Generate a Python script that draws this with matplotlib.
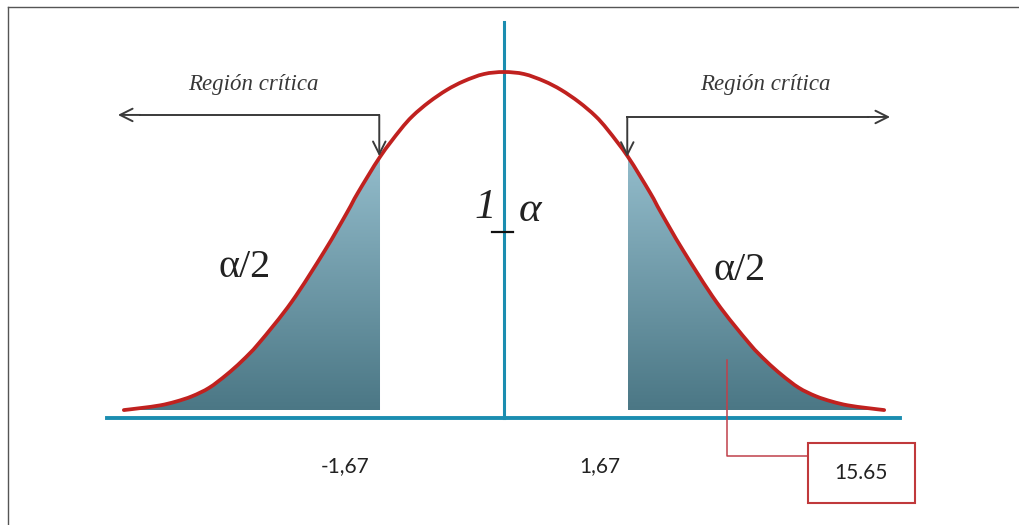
import numpy as np
import matplotlib
matplotlib.use('Agg')
import matplotlib.pyplot as plt
from matplotlib.colors import LinearSegmentedColormap
from matplotlib.patches import PathPatch, Rectangle
from matplotlib.path import Path
from matplotlib.lines import Line2D

# curva (x en unidades z, altura relativa al pico)
curve_x = [-5.12, -4.89, -4.63, -4.42, -4.20, -3.97, -3.74, -3.53, -3.30, -2.86, -2.41,
           -2.11, -1.97, -1.67, -1.40, -1.23, -1.01, -0.77, -0.54, -0.27, 0.0,
           0.27, 0.54, 0.77, 1.01, 1.23, 1.40, 1.67, 1.97, 2.11, 2.41,
           2.86, 3.30, 3.53, 3.74, 3.97, 4.20, 4.42, 4.63, 4.89, 5.12]
curve_y = [0.000, 0.006, 0.014, 0.025, 0.041, 0.066, 0.104, 0.145, 0.198, 0.320, 0.473,
           0.586, 0.642, 0.749, 0.828, 0.870, 0.911, 0.947, 0.973, 0.994, 1.000,
           0.994, 0.973, 0.947, 0.911, 0.870, 0.828, 0.749, 0.642, 0.586, 0.473,
           0.320, 0.198, 0.145, 0.104, 0.066, 0.041, 0.025, 0.014, 0.006, 0.000]

z_crit = 1.67
crit_labels = ['-1,67', '1,67']
tail_label = 'α/2'
region_label = 'Región crítica'
callout_value = '15.65'

teal = '#1b8db0'
red = '#c0211f'
arrow_col = '#3a3a3a'


def smooth_path(xs, ys, closing=None):
    # trazo suave (Bezier) que pasa por los puntos leídos
    p = np.column_stack([xs, ys])
    verts = [p[0]]
    codes = [Path.MOVETO]
    n = len(p)
    for i in range(n - 1):
        p0 = p[max(i - 1, 0)]
        p1, p2 = p[i], p[i + 1]
        p3 = p[min(i + 2, n - 1)]
        verts += [p1 + (p2 - p0) / 6, p2 - (p3 - p1) / 6, p2]
        codes += [Path.CURVE4] * 3
    if closing:
        for c in closing:
            verts.append(c)
            codes.append(Path.LINETO)
        verts.append(p[0])
        codes.append(Path.CLOSEPOLY)
    return Path(verts, codes)


fig = plt.figure(figsize=(10.19, 5.25), dpi=100)
ax = fig.add_axes([0, 0, 1, 1])
ax.set_xlim(-6.788, 6.936)
ax.set_ylim(-0.340, 1.213)
ax.axis('off')

cx = np.array(curve_x)
cy = np.array(curve_y)

# colas sombreadas con degradado
cmap = LinearSegmentedColormap.from_list('tail', ['#4b7785', '#93bccb'])
grad = np.linspace(0, 1, 256).reshape(-1, 1)
for side in (-1, 1):
    if side < 0:
        m = cx <= -z_crit
        path = smooth_path(cx[m], cy[m], [(-z_crit, 0), (cx[m][0], 0)])
        x0, x1 = cx[m][0], -z_crit
    else:
        m = cx >= z_crit
        path = smooth_path(cx[m], cy[m], [(cx[m][-1], 0), (z_crit, 0)])
        x0, x1 = z_crit, cx[m][-1]
    patch = PathPatch(path, facecolor='none', edgecolor='none')
    ax.add_patch(patch)
    im = ax.imshow(grad, cmap=cmap, origin='lower', aspect='auto',
                   extent=[x0, x1, 0, 0.75], zorder=1)
    im.set_clip_path(patch)

# ejes
ax.plot([-5.35, 5.33], [-0.024, -0.024], color=teal, lw=2.8, zorder=2)
ax.plot([0, 0], [-0.024, 1.148], color=teal, lw=2.2, zorder=2)

# curva normal
ax.add_patch(PathPatch(smooth_path(cx, cy), facecolor='none', edgecolor=red, lw=2.7,
                       capstyle='round', joinstyle='round', zorder=3))

# flechas de región crítica
ap = dict(arrowstyle='->,head_length=0.9,head_width=0.45', color=arrow_col, lw=1.4,
          shrinkA=0, shrinkB=0)
ax.plot([-1.68, -4.9], [0.873, 0.873], color=arrow_col, lw=1.4, zorder=4)
ax.annotate('', xy=(-5.20, 0.873), xytext=(-4.9, 0.873), arrowprops=ap)
ax.annotate('', xy=(-1.68, 0.751), xytext=(-1.68, 0.873), arrowprops=ap)
ax.plot([1.66, 4.9], [0.867, 0.867], color=arrow_col, lw=1.4, zorder=4)
ax.annotate('', xy=(5.20, 0.867), xytext=(4.9, 0.867), arrowprops=ap)
ax.annotate('', xy=(1.66, 0.749), xytext=(1.66, 0.867), arrowprops=ap)

serif = 'Liberation Serif'
ax.text(-3.38, 0.962, region_label, fontfamily=serif, fontstyle='italic', fontsize=16.5,
        color='#383838', ha='center', va='center')
ax.text(3.515, 0.962, region_label, fontfamily=serif, fontstyle='italic', fontsize=16.5,
        color='#383838', ha='center', va='center')

ax.text(-3.49, 0.423, tail_label, fontfamily=serif, fontsize=29, color='#222222',
        ha='center', va='center')
ax.text(3.18, 0.414, tail_label, fontfamily=serif, fontsize=29, color='#222222',
        ha='center', va='center')

ax.text(-0.256, 0.598, '1', fontfamily=serif, fontstyle='italic', fontsize=31,
        color='#222222', ha='center', va='center')
ax.text(0.35, 0.590, 'α', fontfamily=serif, fontstyle='italic', fontsize=31,
        color='#222222', ha='center', va='center')
ax.plot([-0.162, 0.121], [0.527, 0.527], color='#111111', lw=1.6, zorder=4)

ax.text(-2.14, -0.166, crit_labels[0], fontfamily='Lato', fontsize=15, color='#222222',
        ha='center', va='center')
ax.text(1.293, -0.166, crit_labels[1], fontfamily='Lato', fontsize=15, color='#222222',
        ha='center', va='center')

# recuadro con el valor
ax.plot([3.003, 3.003, 4.094], [0.148, -0.136, -0.136], color='#c0404a', lw=1.1, zorder=4)
ax.add_patch(Rectangle((4.094, -0.275), 1.441, 0.177, facecolor='white',
                       edgecolor='#c0393b', lw=1.5, zorder=4))
ax.text(4.81, -0.185, callout_value, fontfamily='Lato', fontsize=15, color='#222222',
        ha='center', va='center', zorder=5)

# marco exterior
fig.add_artist(Line2D([8 / 1019, 8 / 1019], [0, 1 - 7 / 525], color='#555555', lw=1.0))
fig.add_artist(Line2D([8 / 1019, 1], [1 - 7 / 525, 1 - 7 / 525], color='#555555', lw=1.0))

fig.savefig('out.png', dpi=100)
